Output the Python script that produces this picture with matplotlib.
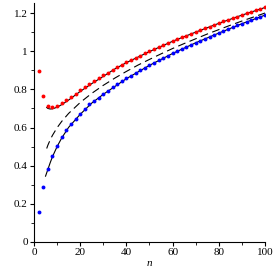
"""
plot.py

Red / blue sequences against n with two solid and one dashed
asymptotic curves (Maple-style axes).

Output:
  out.png
"""
import matplotlib
matplotlib.use("Agg")
import matplotlib.pyplot as plt
from matplotlib.ticker import MultipleLocator, FuncFormatter

# ── Data ──────────────────────────────────────────────────────────────────────
n_dots = list(range(2, 101, 2))

red_dots = [
    0.898, 0.765, 0.713, 0.705, 0.712, 0.727, 0.744, 0.761, 0.778, 0.795,
    0.812, 0.829, 0.844, 0.860, 0.874, 0.888, 0.902, 0.915, 0.928, 0.941,
    0.953, 0.965, 0.977, 0.988, 0.999, 1.011, 1.021, 1.032, 1.042, 1.053,
    1.063, 1.073, 1.082, 1.092, 1.101, 1.111, 1.120, 1.129, 1.138, 1.147,
    1.156, 1.164, 1.173, 1.181, 1.190, 1.198, 1.206, 1.214, 1.222, 1.230,
]

blue_dots = [
    0.156, 0.290, 0.384, 0.452, 0.505, 0.549, 0.588, 0.618, 0.646, 0.671,
    0.698, 0.721, 0.741, 0.757, 0.775, 0.793, 0.810, 0.826, 0.842, 0.857,
    0.872, 0.886, 0.900, 0.914, 0.928, 0.940, 0.952, 0.965, 0.977, 0.989,
    1.000, 1.012, 1.023, 1.034, 1.045, 1.055, 1.066, 1.076, 1.086, 1.096,
    1.106, 1.116, 1.126, 1.135, 1.145, 1.154, 1.163, 1.172, 1.181, 1.190,
]

n_upper = [5.5, 6, 7, 8, 10, 12, 15, 20, 25, 30, 35, 40, 50, 60, 70, 80, 90, 100]
upper   = [0.705, 0.700, 0.697, 0.698, 0.706, 0.720, 0.744, 0.789, 0.830, 0.868,
           0.907, 0.940, 0.998, 1.052, 1.100, 1.146, 1.189, 1.229]

n_mid = [5.5, 6, 7, 8, 10, 12, 15, 20, 25, 30, 35, 40, 45, 50,
         55, 60, 65, 70, 75, 80, 85, 90, 95, 100]
mid   = [0.490, 0.507, 0.535, 0.559, 0.599, 0.632, 0.674, 0.731, 0.779, 0.821,
         0.859, 0.894, 0.927, 0.957, 0.986, 1.014, 1.040, 1.065, 1.090, 1.113,
         1.136, 1.158, 1.179, 1.200]

n_lower = [5, 6, 7, 8, 10, 12, 15, 20, 25, 30, 40, 50, 60, 70, 80, 90, 100]
lower   = [0.345, 0.380, 0.415, 0.447, 0.500, 0.545, 0.601, 0.669, 0.728, 0.774,
           0.856, 0.926, 0.988, 1.044, 1.095, 1.144, 1.189]

# ── Style ─────────────────────────────────────────────────────────────────────
RED   = "#FF0000"
BLUE  = "#0000FF"
BLACK = "#000000"

plt.rcParams.update({
    "font.family": "Liberation Serif",
    "font.size":   8,
    "axes.linewidth": 0.8,
})

# ── Figure ────────────────────────────────────────────────────────────────────
fig = plt.figure(figsize=(2.77, 2.77), dpi=100)
ax = fig.add_axes([0.1227, 0.1264, 0.834, 0.861])

ax.plot(n_upper, upper, color=BLACK, linewidth=0.8, zorder=2)
ax.plot(n_lower, lower, color=BLACK, linewidth=0.8, zorder=2)
ax.plot(n_mid, mid, color=BLACK, linewidth=0.8, dashes=[7, 4], zorder=2)

ax.plot(n_dots, red_dots, "o", color=RED, markersize=2.8,
        markeredgewidth=0, zorder=3)
ax.plot(n_dots, blue_dots, "o", color=BLUE, markersize=2.8,
        markeredgewidth=0, zorder=3)

# ── Axes (left + bottom only) ─────────────────────────────────────────────────
ax.set_xlim(0, 100)
ax.set_ylim(0, 1.25)
for side in ("top", "right"):
    ax.spines[side].set_visible(False)

ax.xaxis.set_major_locator(MultipleLocator(20))
ax.xaxis.set_minor_locator(MultipleLocator(10))
ax.yaxis.set_major_locator(MultipleLocator(0.2))
ax.yaxis.set_minor_locator(MultipleLocator(0.1))
ax.yaxis.set_major_formatter(FuncFormatter(lambda v, p: f"{v:g}"))

ax.tick_params(which="major", direction="out", length=3, width=0.8, pad=1.5,
               labelsize=8)
ax.tick_params(which="minor", direction="out", length=2, width=0.6)

ax.set_xlabel("n", fontstyle="italic", labelpad=1)

fig.savefig("out.png", dpi=100, facecolor="white")
plt.close()
